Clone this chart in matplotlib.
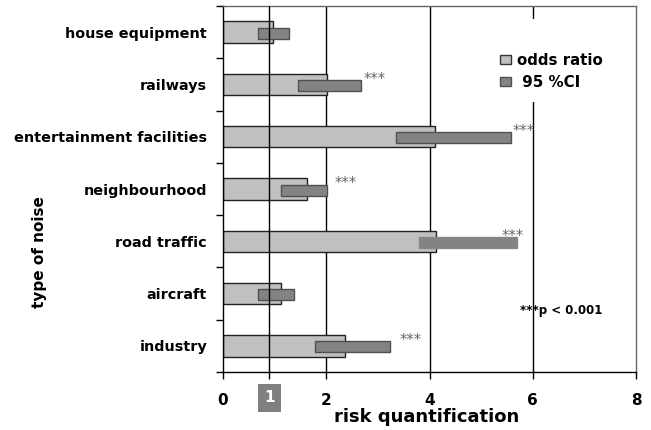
import matplotlib
matplotlib.use("Agg")
import matplotlib.pyplot as plt
from matplotlib.patches import Patch, Rectangle
import numpy as np

categories = ['house equipment', 'railways', 'entertainment facilities',
              'neighbourhood', 'road traffic', 'aircraft', 'industry']
odds_ratio = [0.96, 2.02, 4.10, 1.62, 4.13, 1.12, 2.36]
ci_low = [0.68, 1.45, 3.35, 1.13, 3.79, 0.68, 1.78]
ci_high = [1.27, 2.68, 5.58, 2.01, 5.69, 1.38, 3.24]
# significance stars: category index and x start of the label
star_cats = [1, 2, 3, 4, 6]
star_x = [2.73, 5.61, 2.16, 5.40, 3.42]
x_ticks = [0, 2, 4, 6, 8]
ref_value = 0.9

plt.rcParams['font.family'] = ['DejaVu Sans']
fig = plt.figure(figsize=(6.51, 4.30), dpi=100)
ax = fig.add_axes([223/651, 1-372/430, 413/651, 366/430])

y = np.arange(len(categories))
ax.barh(y, odds_ratio, height=0.41, color='#c0c0c0', edgecolor='#222222',
        linewidth=1.0, zorder=2)
ci_edges = ['#505050'] * len(categories)
ci_edges[4] = '#888888'
ax.barh(y + 0.02, np.array(ci_high) - np.array(ci_low), left=ci_low,
        height=0.21, color='#838383', edgecolor=ci_edges, linewidth=1.0, zorder=3)

for xv in x_ticks[1:-1]:
    ax.axvline(xv, color='black', linewidth=1.0, zorder=1)
ax.axvline(ref_value, color='black', linewidth=1.0, zorder=4)

for c, sx in zip(star_cats, star_x):
    ax.text(sx, c - 0.1, '***', fontsize=10.5, color='#666666', ha='left',
            va='center', zorder=5)

ax.text(5.75, 5.33, '***p < 0.001', fontsize=8.5, fontweight='bold',
        ha='left', va='center', color='black')

ax.set_xlim(0, 8)
ax.set_ylim(6.5, -0.5)

ax.set_xticks([0, ref_value, 2, 4, 6, 8])
ax.set_xticklabels(['0', '', '2', '4', '6', '8'], fontsize=11, fontweight='bold')
ax.tick_params(axis='x', direction='out', length=5, width=1, pad=10)

ax.set_yticks(y)
ax.set_yticklabels(categories, fontsize=10.4, fontweight='bold')
ax.set_yticks(np.arange(-0.5, len(categories), 1.0), minor=True)
ax.tick_params(axis='y', which='major', length=0, pad=11.5)
ax.tick_params(axis='y', which='minor', direction='out', length=5, width=1)

ax.text(ref_value, -0.071, '1', transform=ax.get_xaxis_transform(),
        fontsize=11, fontweight='bold', color='white', ha='center', va='center',
        bbox=dict(boxstyle='square,pad=0.4', fc='#808080', ec='none'))

ax.set_xlabel('risk quantification', fontsize=13, fontweight='bold')
ax.xaxis.set_label_coords(0.493, -0.098)
ax.set_ylabel('type of noise', fontsize=11, fontweight='bold')
ax.yaxis.set_label_coords(-0.426, 0.329)

for s in ['left', 'bottom']:
    ax.spines[s].set_color('black')
    ax.spines[s].set_linewidth(1.0)
for s in ['top', 'right']:
    ax.spines[s].set_color('#666666')
    ax.spines[s].set_linewidth(1.0)

# white legend background (interrupts the gridline at 6)
ax.add_patch(Rectangle((0.659, 0.738), 0.26, 0.2265, transform=ax.transAxes,
                       facecolor='white', edgecolor='none', zorder=5))

handles = [Patch(facecolor='#c0c0c0', edgecolor='#333333'),
           Patch(facecolor='#838383', edgecolor='#505050')]
leg = ax.legend(handles, ['odds ratio', ' 95 %CI'], loc='upper left',
                bbox_to_anchor=(0.671, 0.8716), frameon=False,
                handlelength=0.75, handleheight=0.55, handletextpad=0.4,
                labelspacing=0.45, borderpad=0, borderaxespad=0,
                prop={'size': 10.8, 'weight': 'bold'})
leg.set_zorder(6)

fig.savefig('out.png', dpi=100)
